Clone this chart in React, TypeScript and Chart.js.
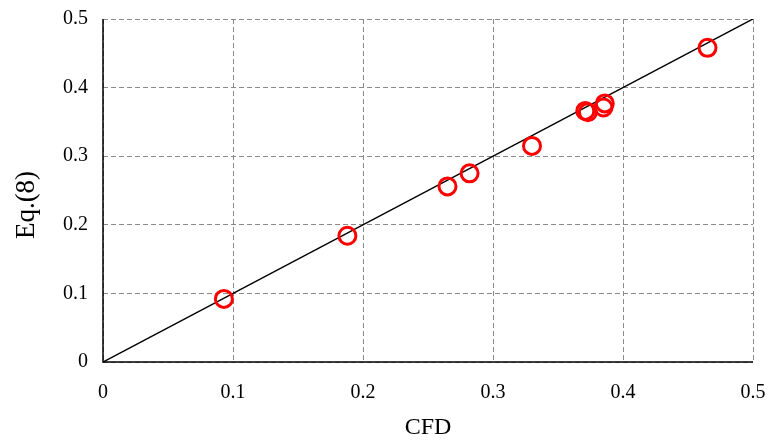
import React, { useEffect, useRef } from "react";
import { Chart, registerables } from "chart.js";

Chart.register(...registerables);

const cfdValues = [0.093, 0.188, 0.265, 0.282, 0.330, 0.371, 0.373, 0.385, 0.386, 0.465];
const eqValues = [0.092, 0.184, 0.256, 0.275, 0.315, 0.366, 0.364, 0.371, 0.377, 0.458];
const lineX = [0, 0.5];
const lineY = [0, 0.5];
const tickValues = [0, 0.1, 0.2, 0.3, 0.4, 0.5];
const xTitle = "CFD";
const yTitle = "Eq.(8)";

const FAMILY = "'Liberation Serif', 'Times New Roman', serif";

export default function App() {
  const ref = useRef<HTMLCanvasElement>(null);
  useEffect(() => {
    document.body.style.margin = "0";
    const ctx = ref.current!;
    const font = { family: FAMILY, size: 20 };
    const chart = new Chart(ctx, {
      type: "scatter",
      data: {
        datasets: [
          {
            type: "line",
            data: lineX.map((x, i) => ({ x, y: lineY[i] })),
            borderColor: "#000",
            borderWidth: 1.5,
            pointRadius: 0,
            fill: false,
            order: 2,
          } as any,
          {
            data: cfdValues.map((x, i) => ({ x, y: eqValues[i] })),
            pointStyle: "circle",
            pointRadius: 8.5,
            pointBorderWidth: 3,
            borderColor: "#ff0000",
            backgroundColor: "rgba(0,0,0,0)",
            order: 1,
          },
        ],
      },
      options: {
        animation: false,
        responsive: false,
        layout: { padding: { left: 0, right: 21, top: 19, bottom: 0 } },
        plugins: { legend: { display: false }, tooltip: { enabled: false } },
        scales: {
          x: {
            type: "linear",
            min: 0,
            max: 0.5,
            afterBuildTicks: (s: any) => { s.ticks = tickValues.map((v) => ({ value: v })); },
            afterFit: (s: any) => { s.height = 80; },
            border: { display: false, dash: [5, 3] },
            grid: { color: "#8a8a8a", lineWidth: 1, drawTicks: true, tickLength: 17, tickColor: "rgba(0,0,0,0)" },
            ticks: { color: "#000", font, padding: 2, callback: (v: any) => String(Number(v)) },
          },
          y: {
            type: "linear",
            min: 0,
            max: 0.5,
            afterBuildTicks: (s: any) => { s.ticks = tickValues.map((v) => ({ value: v })); },
            afterFit: (s: any) => { s.width = 103; },
            border: { display: false, dash: [5, 3] },
            grid: { color: "#8a8a8a", lineWidth: 1, drawTicks: true, tickLength: 13, tickColor: "rgba(0,0,0,0)" },
            ticks: { color: "#000", font, padding: 2, callback: (v: any) => String(Number(v)) },
          },
        },
      },
      plugins: [
        {
          id: "axesAndTitles",
          beforeDatasetsDraw: (c: any) => {
            const g = c.ctx as CanvasRenderingContext2D;
            const a = c.chartArea;
            g.save();
            g.strokeStyle = "#000";
            g.lineWidth = 1.5;
            g.setLineDash([]);
            g.beginPath();
            g.moveTo(a.left, a.top);
            g.lineTo(a.left, a.bottom);
            g.lineTo(a.right, a.bottom);
            g.stroke();
            g.restore();
          },
          afterDraw: (c: any) => {
            const g = c.ctx as CanvasRenderingContext2D;
            const area = c.chartArea;
            g.save();
            g.fillStyle = "#000";
            g.textAlign = "center";
            g.textBaseline = "middle";
            g.font = `24px ${FAMILY}`;
            g.fillText(xTitle, (area.left + area.right) / 2, 428);
            g.translate(27, 205);
            g.rotate(-Math.PI / 2);
            g.font = `27px ${FAMILY}`;
            g.fillText(yTitle, 0, 0);
            g.restore();
          },
        },
      ],
    } as any);
    return () => chart.destroy();
  }, []);
  return <canvas ref={ref} width={774} height={442} style={{ display: "block" }} />;
}
